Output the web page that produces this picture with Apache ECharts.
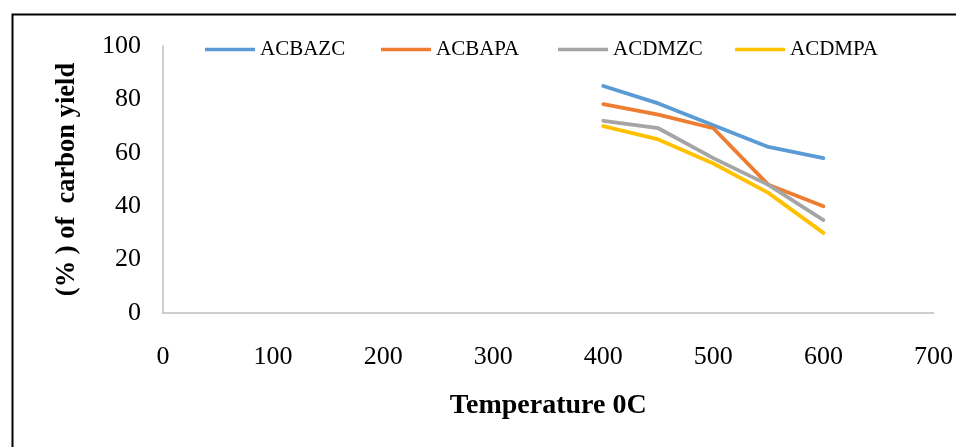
<!DOCTYPE html>
<html>
<head>
<meta charset="utf-8">
<script src="https://cdn.jsdelivr.net/npm/echarts@6/dist/echarts.min.js"></script>
<style>html,body{margin:0;padding:0;background:#fff;}#c{width:956px;height:447px;}</style>
</head>
<body>
<div id="c"></div>
<script>
var temperatures = [400, 450, 500, 550, 600];
var seriesNames = ['ACBAZC', 'ACBAPA', 'ACDMZC', 'ACDMPA'];
var acbazc = [85, 78.5, 70.3, 62.2, 58];
var acbapa = [78.2, 74.3, 69.2, 48, 40];
var acdmzc = [72, 69.2, 58, 48, 34.8];
var acdmpa = [70, 65, 56, 45, 30];
var colors = ['#5B9BD5', '#ED7D31', '#A5A5A5', '#FFC000'];

function pairs(vals) { return temperatures.map(function (t, i) { return [t, vals[i]]; }); }
var allVals = [acbazc, acbapa, acdmzc, acdmpa];
var font = '"Liberation Serif", "Times New Roman", serif';
var legendLefts = [200, 376, 553, 730];

var chart = echarts.init(document.getElementById('c'), null, {renderer: 'canvas'});
chart.setOption({
  animation: false,
  backgroundColor: '#fff',
  graphic: [{
    type: 'rect', left: 10, top: 12, silent: true,
    shape: {x: 0, y: 0, width: 960, height: 450},
    style: {fill: 'none', stroke: '#000', lineWidth: 2}
  }],
  legend: seriesNames.map(function (n, i) {
    return {
      left: legendLefts[i], top: 34, itemWidth: 50, itemHeight: 3.5, itemTextGap: 8,
      icon: 'rect', data: [n], selectedMode: false,
      textStyle: {fontFamily: font, fontSize: 21, color: '#000'}
    };
  }),
  grid: {left: 163, right: 18, top: 46, bottom: 134, containLabel: false},
  xAxis: {
    type: 'value', min: 0, max: 700, interval: 100,
    name: 'Temperature 0C', nameLocation: 'middle', nameGap: 79,
    nameTextStyle: {fontFamily: font, fontSize: 28, fontWeight: 'bold', color: '#000'},
    axisLine: {show: true, lineStyle: {color: '#BFBFBF', width: 1.5}},
    axisTick: {show: false}, splitLine: {show: false},
    axisLabel: {fontFamily: font, fontSize: 26, color: '#000', margin: 31}
  },
  yAxis: {
    type: 'value', min: 0, max: 100, interval: 20,
    name: '(% ) of  carbon yield', nameLocation: 'middle', nameGap: 82, nameRotate: 90,
    nameTextStyle: {fontFamily: font, fontSize: 26.5, fontWeight: 'bold', color: '#000'},
    axisLine: {show: true, lineStyle: {color: '#BFBFBF', width: 1.5}},
    axisTick: {show: false}, splitLine: {show: false},
    axisLabel: {fontFamily: font, fontSize: 26, color: '#000', margin: 22}
  },
  series: seriesNames.map(function (n, i) {
    return {
      name: n, type: 'line', data: pairs(allVals[i]), showSymbol: false,
      color: colors[i],
      lineStyle: {width: 3.8, color: colors[i], cap: 'round'},
      itemStyle: {color: colors[i]}
    };
  })
});
</script>
</body>
</html>
